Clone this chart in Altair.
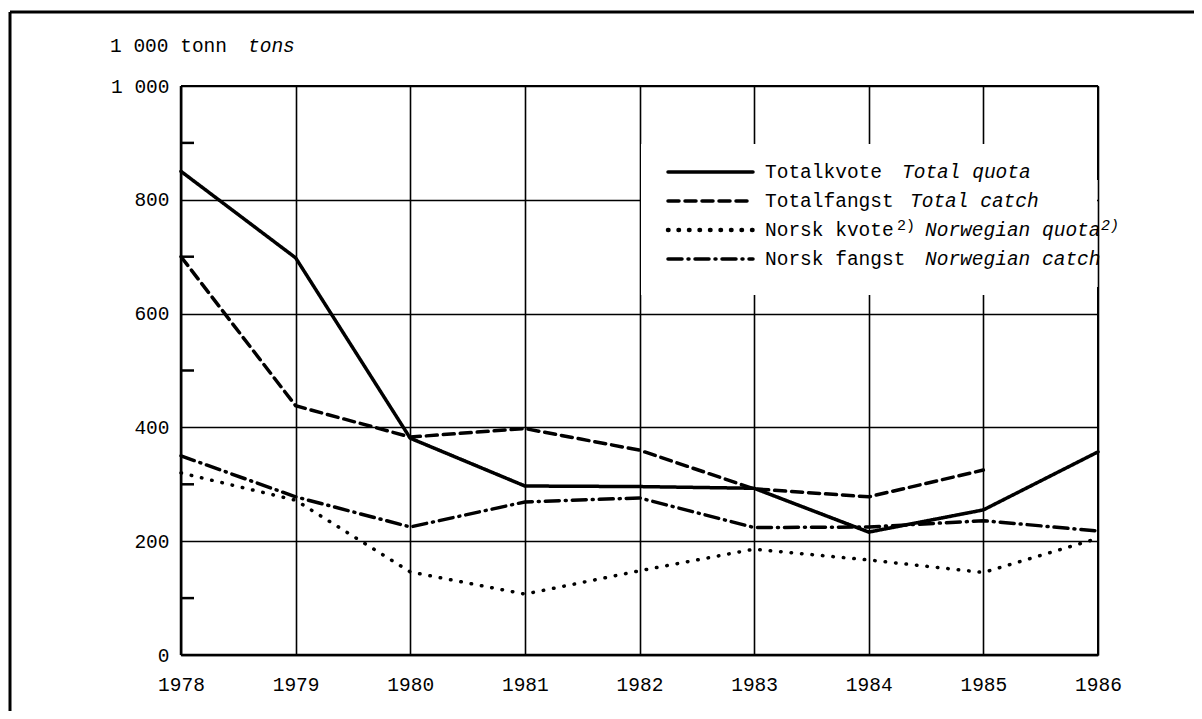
import altair as alt
import pandas as pd

years = [1978, 1979, 1980, 1981, 1982, 1983, 1984, 1985, 1986]
total_quota = [850, 698, 381, 297, 296, 293, 216, 255, 357]
total_catch = [700, 438, 383, 398, 360, 292, 278, 325, None]
norw_quota = [320, 272, 146, 107, 148, 186, 167, 145, 205]
norw_catch = [350, 278, 225, 269, 276, 224, 225, 236, 218]

series_names = ["Totalkvote", "Totalfangst", "Norsk kvote", "Norsk fangst"]
series_values = [total_quota, total_catch, norw_quota, norw_catch]
dash_styles = [[1, 0], [11, 6], [0.5, 10], [14, 6, 1, 6]]
stroke_widths = [3.5, 3.5, 4.5, 3.5]

y_ticks = [0, 200, 400, 600, 800, 1000]
minor_ticks = [100, 300, 500, 700, 900]

legend_roman = ["Totalkvote", "Totalfangst", "Norsk kvote", "Norsk fangst"]
legend_italic = ["Total quota", "Total catch", "Norwegian quota", "Norwegian catch"]
unit_roman = "1 000 tonn"
unit_italic = "tons"

FONT = "Liberation Mono"
FS = 19.5
FW = "normal"
W, H = 917, 569

rows = []
for name, vals in zip(series_names, series_values):
    for yr, v in zip(years, vals):
        if v is not None:
            rows.append({"year": yr, "value": v, "series": name})
df = pd.DataFrame(rows)

xscale = alt.Scale(domain=[1978, 1986], nice=False)
yscale = alt.Scale(domain=[0, 1000], nice=False)

lines = alt.Chart(df).mark_line(color="black", strokeCap="round").encode(
    x=alt.X("year:Q", scale=xscale,
            axis=alt.Axis(values=years, format="d", title=None, grid=True, ticks=False,
                          domain=False, labelPadding=20, labelFontSize=FS, labelFont=FONT,
                          labelFontWeight=FW,
                          labelFlush=False, labelBound=False, labelOverlap=False,
                          labelColor="black", gridColor="black", gridWidth=1.6, gridOpacity=1)),
    y=alt.Y("value:Q", scale=yscale,
            axis=alt.Axis(values=y_ticks, title=None, grid=True, ticks=False, domain=False,
                          labelPadding=12, labelFontSize=FS, labelFont=FONT, labelColor="black",
                          labelFontWeight=FW,
                          labelFlush=False, labelOverlap=False,
                          labelExpr="datum.value == 1000 ? '1 000' : datum.label",
                          gridColor="black", gridWidth=1.6, gridOpacity=1)),
    strokeDash=alt.StrokeDash("series:N", scale=alt.Scale(domain=series_names, range=dash_styles),
                              legend=None),
    strokeWidth=alt.StrokeWidth("series:N", scale=alt.Scale(domain=series_names, range=stroke_widths),
                                legend=None),
    detail="series:N",
)

minor = alt.Chart(pd.DataFrame({"v": minor_ticks})).mark_rule(color="black", strokeWidth=2.5).encode(
    y=alt.Y("v:Q", scale=yscale), x=alt.value(0), x2=alt.value(13)
)

layers = [lines, minor]

# legend background
layers.append(alt.Chart(pd.DataFrame({"a": [0]})).mark_rect(color="white").encode(
    x=alt.value(460), x2=alt.value(916), y=alt.value(58), y2=alt.value(209)))

# plot frame
def rule(x, x2, y, y2, w):
    return alt.Chart(pd.DataFrame({"a": [0]})).mark_rule(color="black", strokeWidth=w).encode(
        x=alt.value(x), x2=alt.value(x2), y=alt.value(y), y2=alt.value(y2))

layers += [
    rule(0, W, 0, 0, 2),
    rule(0, W, H, H, 2.5),
    rule(0, 0, 0, H, 2.5),
    rule(W, W, 0, 94, 2),
    rule(W, W, 201, H, 2),
    # outer figure frame
    rule(-171, 1030, -74, -74, 3),
    rule(-171, -171, -74, 640, 3),
]

# legend entries
row_y = [86, 115, 144, 173]
italic_x = [721, 729, 744, 744]
for i in range(4):
    layers.append(alt.Chart(pd.DataFrame({"a": [0]})).mark_rule(
        color="black", strokeWidth=stroke_widths[i], strokeDash=dash_styles[i], strokeCap="round").encode(
        x=alt.value(487), x2=alt.value(572), y=alt.value(row_y[i])))
    layers.append(alt.Chart(pd.DataFrame({"a": [0]})).mark_text(
        font=FONT, fontSize=FS, fontWeight=FW, align="left", baseline="middle", color="black").encode(
        x=alt.value(584), y=alt.value(row_y[i]), text=alt.value(legend_roman[i])))
    layers.append(alt.Chart(pd.DataFrame({"a": [0]})).mark_text(
        font=FONT, fontSize=FS, fontWeight=FW, fontStyle="italic", align="left", baseline="middle",
        color="black").encode(
        x=alt.value(italic_x[i]), y=alt.value(row_y[i]), text=alt.value(legend_italic[i])))

# superscripts "2)"
for sx in [716, 920]:
    layers.append(alt.Chart(pd.DataFrame({"a": [0]})).mark_text(
        font=FONT, fontSize=15, fontWeight=FW, align="left", baseline="middle", color="black",
        fontStyle="italic" if sx > 800 else "normal").encode(
        x=alt.value(sx), y=alt.value(row_y[2] - 5), text=alt.value("2)")))

# unit label
layers.append(alt.Chart(pd.DataFrame({"a": [0]})).mark_text(
    font=FONT, fontSize=FS, fontWeight=FW, align="left", baseline="alphabetic", color="black").encode(
    x=alt.value(-71), y=alt.value(-34), text=alt.value(unit_roman)))
layers.append(alt.Chart(pd.DataFrame({"a": [0]})).mark_text(
    font=FONT, fontSize=FS, fontWeight=FW, fontStyle="italic", align="left", baseline="alphabetic",
    color="black").encode(
    x=alt.value(67), y=alt.value(-34), text=alt.value(unit_italic)))

chart = alt.layer(*layers).properties(
    width=W, height=H,
    autosize=alt.AutoSizeParams(type="none"),
    padding={"left": 173, "top": 78, "right": 96, "bottom": 56},
).configure_view(stroke=None).configure(background="white")

chart.save("out.html", embed_options={"renderer": "svg", "actions": False})
